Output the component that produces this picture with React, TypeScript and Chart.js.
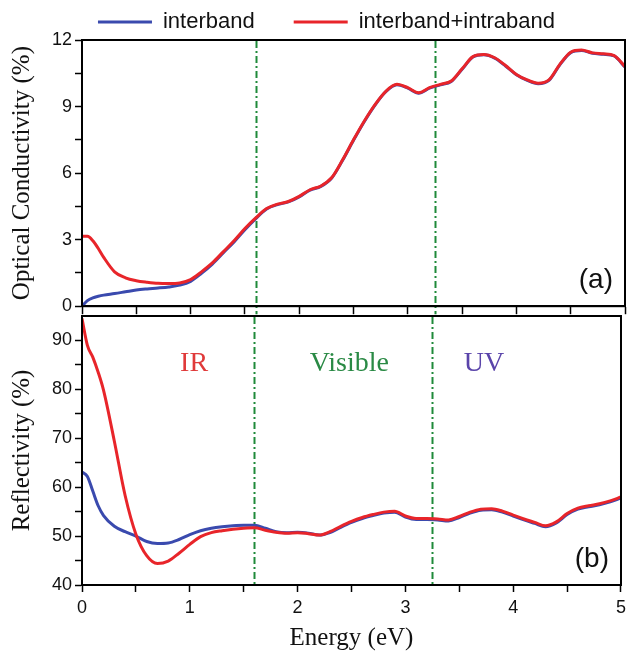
import React, { useEffect, useRef } from "react";
import { Chart, registerables } from "chart.js";

Chart.register(...registerables);

// Photon energy grid (eV), shared by both panels
const energy = [
  0, 0.05, 0.1, 0.15, 0.2, 0.3, 0.4, 0.5, 0.6, 0.7, 0.8, 0.9, 1.0, 1.1, 1.2, 1.3, 1.4, 1.5, 1.6, 1.7,
  1.8, 1.9, 2.0, 2.1, 2.2, 2.3, 2.4, 2.5, 2.6, 2.7, 2.8, 2.9, 3.0, 3.1, 3.2, 3.3, 3.4, 3.5, 3.6, 3.7,
  3.8, 3.9, 4.0, 4.1, 4.2, 4.3, 4.4, 4.5, 4.6, 4.7, 4.8, 4.9, 5.0,
];

// Optical conductivity (%)
const sigmaInter = [
  0, 0.25, 0.38, 0.45, 0.5, 0.57, 0.65, 0.73, 0.78, 0.82, 0.87, 0.95, 1.12, 1.48, 1.9, 2.4, 2.9, 3.45, 3.95, 4.38,
  4.58, 4.7, 4.93, 5.23, 5.4, 5.78, 6.58, 7.48, 8.33, 9.08, 9.68, 9.98, 9.83, 9.6, 9.83, 9.98, 10.13, 10.68, 11.23, 11.33,
  11.18, 10.83, 10.43, 10.18, 10.03, 10.18, 10.88, 11.43, 11.53, 11.4, 11.36, 11.28, 10.78,
];
const sigmaTotal = [
  3.15, 3.15, 2.95, 2.6, 2.2, 1.55, 1.28, 1.15, 1.08, 1.03, 1.02, 1.05, 1.2, 1.55, 1.95, 2.45, 2.95, 3.5, 3.98, 4.4,
  4.6, 4.72, 4.95, 5.25, 5.42, 5.8, 6.6, 7.5, 8.35, 9.1, 9.7, 10.0, 9.85, 9.62, 9.85, 10.0, 10.15, 10.7, 11.25, 11.35,
  11.2, 10.85, 10.45, 10.2, 10.05, 10.2, 10.9, 11.45, 11.55, 11.42, 11.38, 11.3, 10.8,
];

// Reflectivity (%)
const reflInter = [
  63.1, 62.2, 59.2, 56.2, 54.2, 52.0, 50.9, 50.0, 48.9, 48.5, 48.6, 49.3, 50.3, 51.1, 51.6, 51.9, 52.1, 52.2, 52.2, 51.6,
  50.9, 50.7, 50.8, 50.6, 50.2, 50.7, 51.8, 52.8, 53.6, 54.2, 54.7, 54.9, 53.9, 53.4, 53.4, 53.3, 53.1, 53.8, 54.7, 55.3,
  55.4, 54.9, 54.1, 53.3, 52.6, 51.9, 52.7, 54.4, 55.5, 56.0, 56.4, 57.0, 57.8,
];
const reflTotal = [
  94.5, 89.0, 86.6, 83.5, 79.8, 69.4, 58.3, 50.4, 46.0, 44.4, 44.9, 46.5, 48.3, 49.9, 50.7, 51.1, 51.4, 51.6, 51.7, 51.2,
  50.8, 50.6, 50.7, 50.5, 50.2, 50.9, 52.0, 53.0, 53.8, 54.4, 54.9, 55.1, 54.1, 53.6, 53.6, 53.5, 53.3, 54.0, 54.9, 55.5,
  55.6, 55.1, 54.3, 53.5, 52.8, 52.1, 52.9, 54.6, 55.7, 56.2, 56.6, 57.2, 58.0,
];

// Axis ticks: marks at every step, numbers only on the labelled ones
const energyTickMarks = [0, 0.5, 1, 1.5, 2, 2.5, 3, 3.5, 4, 4.5, 5];
const energyTickLabels = [0, 1, 2, 3, 4, 5];
const sigmaTickMarks = [0, 1.5, 3, 4.5, 6, 7.5, 9, 10.5, 12];
const sigmaTickLabels = [0, 3, 6, 9, 12];
const reflTickMarks = [40, 45, 50, 55, 60, 65, 70, 75, 80, 85, 90];
const reflTickLabels = [40, 50, 60, 70, 80, 90];

// Spectral region boundaries (eV) and region names
const regionBounds = [1.6, 3.25];
const regionNames = ["IR", "Visible", "UV"];
const regionCenters = [1.04, 2.48, 3.73];
const regionLabelLevel = 83.7;

const BLUE = "#3a4aae";
const RED = "#e8252a";
const GREEN = "#1f8a3a";
const REGION_COLORS = ["#e03a3a", "#2a8a45", "#5a44aa"];
const INK = "#111";
const SANS = '"Liberation Sans", Arial, sans-serif';
const SERIF = '"Liberation Serif", "Times New Roman", serif';

const toPoints = (xs: number[], ys: number[]) => xs.map((x, i) => ({ x, y: ys[i] }));

const setTicks = (values: number[]) => (scale: any) => {
  scale.ticks = values.map((value) => ({ value }));
};
const labelIf = (values: number[]) => (v: any) => (values.includes(Number(v)) ? String(v) : "");

const framePlugin = {
  id: "frame",
  afterDatasetsDraw(chart: any) {
    const { ctx, chartArea: a } = chart;
    ctx.save();
    ctx.strokeStyle = "#000";
    ctx.lineWidth = 2;
    ctx.strokeRect(a.left, a.top, a.right - a.left, a.bottom - a.top);
    ctx.restore();
  },
};

const boundaryPlugin = (toAxisBottom: boolean) => ({
  id: "bandBoundaries",
  beforeDatasetsDraw(chart: any) {
    const { ctx, chartArea: a, scales } = chart;
    const yEnd = toAxisBottom ? scales.x.bottom : a.bottom;
    ctx.save();
    ctx.strokeStyle = GREEN;
    ctx.lineWidth = 2;
    ctx.setLineDash([7, 3, 2, 3]);
    regionBounds.forEach((e) => {
      const px = Math.round(scales.x.getPixelForValue(e)) + 0.5;
      ctx.beginPath();
      ctx.moveTo(px, a.top + 1);
      ctx.lineTo(px, yEnd);
      ctx.stroke();
    });
    ctx.restore();
  },
});

const panelTagPlugin = (tag: string) => ({
  id: "panelTag",
  afterDatasetsDraw(chart: any) {
    const { ctx, chartArea: a } = chart;
    ctx.save();
    ctx.font = `28px ${SANS}`;
    ctx.fillStyle = INK;
    ctx.textAlign = "right";
    ctx.textBaseline = "alphabetic";
    ctx.fillText(tag, a.right - 12, a.bottom - 18);
    ctx.restore();
  },
});

const regionNamePlugin = {
  id: "regionNames",
  afterDatasetsDraw(chart: any) {
    const { ctx, scales } = chart;
    ctx.save();
    ctx.font = `28px ${SERIF}`;
    ctx.textAlign = "center";
    ctx.textBaseline = "alphabetic";
    regionNames.forEach((name, i) => {
      ctx.fillStyle = REGION_COLORS[i];
      ctx.fillText(name, scales.x.getPixelForValue(regionCenters[i]), scales.y.getPixelForValue(regionLabelLevel));
    });
    ctx.restore();
  },
};

const seriesStyle = (color: string, order: number) => ({
  borderColor: color,
  backgroundColor: color,
  borderWidth: 3,
  pointRadius: 0,
  cubicInterpolationMode: "monotone" as const,
  order,
});

const yAxis = (min: number, max: number, marks: number[], labels: number[], title: string, width: number, titleShift: number) => ({
  type: "linear" as const,
  min,
  max,
  afterBuildTicks: setTicks(marks),
  afterFit: (s: any) => {
    s.width = width;
  },
  ticks: { callback: labelIf(labels), font: { family: SANS, size: 18 }, color: INK, padding: 3 },
  grid: { drawOnChartArea: false, drawTicks: true, tickLength: 7, tickWidth: 1.5, tickColor: "#000" },
  border: { color: "#000", width: 2 },
  title: { display: true, text: title, font: { family: SERIF, size: 25 }, color: INK, padding: { top: titleShift, bottom: 0 } },
});

export default function App() {
  const topRef = useRef<HTMLCanvasElement>(null);
  const bottomRef = useRef<HTMLCanvasElement>(null);

  useEffect(() => {
    const top = new Chart(topRef.current as HTMLCanvasElement, {
      type: "line",
      data: {
        datasets: [
          { label: "interband", data: toPoints(energy, sigmaInter), ...seriesStyle(BLUE, 1) },
          { label: "interband+intraband", data: toPoints(energy, sigmaTotal), ...seriesStyle(RED, 0) },
        ],
      },
      options: {
        responsive: false,
        animation: false,
        devicePixelRatio: 1,
        layout: { padding: { top: -28, left: 28, right: 6, bottom: 4 } },
        plugins: {
          tooltip: { enabled: false },
          legend: {
            position: "top",
            align: "center",
            maxHeight: 68,
            labels: {
              boxWidth: 54,
              boxHeight: 3,
              padding: 39,
              color: INK,
              font: { family: SANS, size: 22 },
              sort: (a: any, b: any) => a.datasetIndex - b.datasetIndex,
              generateLabels: (chart: any) =>
                (Chart.defaults.plugins.legend.labels as any)
                  .generateLabels(chart)
                  .map((l: any) => ({ ...l, lineWidth: 0 })),
            },
          },
        },
        scales: {
          x: {
            type: "linear",
            min: 0,
            max: 5,
            afterBuildTicks: setTicks(energyTickMarks),
            afterFit: (s: any) => {
              s.height = 8;
            },
            ticks: { display: false },
            grid: { drawOnChartArea: false, drawTicks: true, tickLength: 8, tickWidth: 1.5, tickColor: "#000" },
            border: { color: "#000", width: 2 },
          },
          y: yAxis(0, 12, sigmaTickMarks, sigmaTickLabels, "Optical Conductivity (%)", 54, -21),
        },
      } as any,
      plugins: [boundaryPlugin(true), framePlugin, panelTagPlugin("(a)")],
    });

    const bottom = new Chart(bottomRef.current as HTMLCanvasElement, {
      type: "line",
      data: {
        datasets: [
          { label: "interband", data: toPoints(energy, reflInter), ...seriesStyle(BLUE, 1) },
          { label: "interband+intraband", data: toPoints(energy, reflTotal), ...seriesStyle(RED, 0) },
        ],
      },
      options: {
        responsive: false,
        animation: false,
        devicePixelRatio: 1,
        layout: { padding: { top: 16, left: 0, right: 6, bottom: 0 } },
        plugins: { legend: { display: false }, tooltip: { enabled: false } },
        scales: {
          x: {
            type: "linear",
            min: 0,
            max: 5,
            afterBuildTicks: setTicks(energyTickMarks),
            afterFit: (s: any) => {
              s.height = 71;
            },
            ticks: { callback: labelIf(energyTickLabels), font: { family: SANS, size: 18 }, color: INK, padding: 5, maxRotation: 0, autoSkip: false },
            grid: { drawOnChartArea: false, drawTicks: true, tickLength: 7, tickWidth: 1.5, tickColor: "#000" },
            border: { color: "#000", width: 2 },
            title: { display: true, text: "Energy (eV)", font: { family: SERIF, size: 25 }, color: INK, padding: { top: 0, bottom: 3 } },
          },
          y: yAxis(40, 95, reflTickMarks, reflTickLabels, "Reflectivity (%)", 82, 7),
        },
      } as any,
      plugins: [boundaryPlugin(false), framePlugin, regionNamePlugin, panelTagPlugin("(b)")],
    });

    return () => {
      top.destroy();
      bottom.destroy();
    };
  }, []);

  return (
    <div style={{ position: "absolute", left: 0, top: 0, width: 631, height: 656, background: "#fff" }}>
      <canvas ref={topRef} width={631} height={320} style={{ position: "absolute", left: 0, top: 0, display: "block" }} />
      <canvas ref={bottomRef} width={631} height={356} style={{ position: "absolute", left: 0, top: 300, display: "block" }} />
    </div>
  );
}
